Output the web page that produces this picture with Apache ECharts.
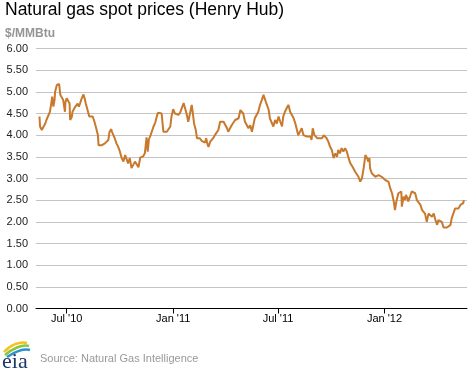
<!DOCTYPE html>
<html><head><meta charset="utf-8">
<script src="https://cdn.jsdelivr.net/npm/echarts@6/dist/echarts.min.js"></script>
<style>html,body{margin:0;padding:0;background:#fff}#c{width:473px;height:370px}</style>
</head><body><div id="c"></div>
<script>
const dates = [
'2010-05-15','2010-05-16','2010-05-19','2010-05-22','2010-05-25','2010-05-27','2010-05-30','2010-06-02','2010-06-04','2010-06-06',
'2010-06-08','2010-06-10','2010-06-11','2010-06-14','2010-06-16','2010-06-18','2010-06-20','2010-06-23','2010-06-25','2010-06-28',
'2010-06-29','2010-07-01','2010-07-04','2010-07-06','2010-07-07','2010-07-10','2010-07-11','2010-07-14','2010-07-16','2010-07-18',
'2010-07-20','2010-07-22','2010-07-24','2010-07-27','2010-07-30','2010-08-01','2010-08-03','2010-08-06','2010-08-09','2010-08-12',
'2010-08-15','2010-08-18','2010-08-21','2010-08-24','2010-08-25','2010-08-28','2010-08-31','2010-09-02','2010-09-05','2010-09-08',
'2010-09-11','2010-09-13','2010-09-16','2010-09-17','2010-09-20','2010-09-22','2010-09-25','2010-09-28','2010-10-01','2010-10-04',
'2010-10-07','2010-10-10','2010-10-13','2010-10-15','2010-10-18','2010-10-21','2010-10-24','2010-10-27','2010-10-30','2010-11-02',
'2010-11-05','2010-11-08','2010-11-10','2010-11-13','2010-11-16','2010-11-18','2010-11-20','2010-11-23','2010-11-25','2010-11-28',
'2010-12-01','2010-12-04','2010-12-06','2010-12-09','2010-12-12','2010-12-15','2010-12-18','2010-12-21','2010-12-24','2010-12-27',
'2010-12-29',
'2011-01-01','2011-01-04','2011-01-07','2011-01-10','2011-01-13','2011-01-16','2011-01-19','2011-01-21','2011-01-24','2011-01-27',
'2011-01-30','2011-02-02','2011-02-04','2011-02-06','2011-02-09','2011-02-11','2011-02-13','2011-02-16','2011-02-19','2011-02-22',
'2011-02-25','2011-02-27','2011-03-01','2011-03-03','2011-03-06','2011-03-09','2011-03-11','2011-03-14','2011-03-17','2011-03-20',
'2011-03-23','2011-03-26','2011-03-29','2011-04-01','2011-04-04','2011-04-06','2011-04-09','2011-04-12','2011-04-15','2011-04-18',
'2011-04-21','2011-04-24','2011-04-27','2011-04-29','2011-05-02','2011-05-05','2011-05-08','2011-05-11','2011-05-14','2011-05-17',
'2011-05-20','2011-05-22','2011-05-25','2011-05-28','2011-05-31','2011-06-03','2011-06-06','2011-06-08','2011-06-10','2011-06-12',
'2011-06-15','2011-06-17','2011-06-20','2011-06-23','2011-06-26','2011-06-29','2011-07-02','2011-07-05','2011-07-08','2011-07-10',
'2011-07-13','2011-07-16','2011-07-19','2011-07-22','2011-07-25','2011-07-28','2011-07-31','2011-08-03','2011-08-05','2011-08-08',
'2011-08-11','2011-08-14','2011-08-17','2011-08-20','2011-08-23','2011-08-26','2011-08-28','2011-08-30','2011-09-02','2011-09-04',
'2011-09-07','2011-09-10','2011-09-15','2011-09-18','2011-09-20','2011-09-23','2011-09-26','2011-09-29','2011-10-02','2011-10-05',
'2011-10-08','2011-10-11','2011-10-13','2011-10-16','2011-10-19','2011-10-22','2011-10-25','2011-10-28','2011-10-31','2011-11-03',
'2011-11-06','2011-11-08','2011-11-11','2011-11-14','2011-11-17','2011-11-20','2011-11-23','2011-11-26','2011-11-29','2011-12-02',
'2011-12-04','2011-12-06','2011-12-07','2011-12-10','2011-12-13','2011-12-16','2011-12-19','2011-12-22','2011-12-25','2011-12-27',
'2011-12-30',
'2012-01-02','2012-01-05','2012-01-08','2012-01-11','2012-01-14','2012-01-17','2012-01-19','2012-01-22','2012-01-25','2012-01-28',
'2012-01-30','2012-01-31','2012-02-03','2012-02-06','2012-02-07','2012-02-10','2012-02-11','2012-02-14','2012-02-17','2012-02-20',
'2012-02-23','2012-02-26','2012-02-29','2012-03-03','2012-03-06','2012-03-08','2012-03-11','2012-03-14','2012-03-17','2012-03-20',
'2012-03-23','2012-03-26','2012-03-29','2012-04-01','2012-04-03','2012-04-06','2012-04-09','2012-04-12','2012-04-15','2012-04-18',
'2012-04-21','2012-04-24','2012-04-26','2012-04-29','2012-05-02','2012-05-05','2012-05-08','2012-05-11','2012-05-14','2012-05-16',
'2012-05-17'
];
const prices = [
4.43,4.20,4.12,4.08,4.27,4.35,4.39,4.54,4.70,4.89,
4.66,4.81,5.00,5.16,5.20,5.18,4.93,4.89,4.81,4.54,
4.77,4.85,4.89,4.73,4.35,4.43,4.54,4.58,4.66,4.62,
4.73,4.66,4.73,4.85,4.94,4.85,4.73,4.58,4.43,4.39,
4.43,4.31,4.16,4.00,3.77,3.73,3.77,3.77,3.81,3.81,
3.89,4.08,4.14,4.08,4.04,3.93,3.81,3.73,3.62,3.47,
3.39,3.54,3.43,3.35,3.47,3.24,3.21,3.39,3.35,3.26,
3.48,3.51,3.51,3.58,3.95,3.62,3.90,4.00,4.02,4.20,
4.29,4.45,4.52,4.54,4.50,4.08,4.04,4.08,4.06,4.20,
4.43,
4.60,4.50,4.54,4.47,4.52,4.54,4.74,4.72,4.50,4.31,
4.50,4.70,4.50,4.27,4.12,3.93,3.89,3.93,3.87,3.89,
3.83,3.93,3.80,3.73,3.85,3.89,3.93,4.00,4.04,4.12,
4.31,4.35,4.31,4.27,4.16,4.08,4.08,4.23,4.27,4.35,
4.35,4.39,4.58,4.62,4.50,4.31,4.27,4.16,4.23,4.08,
4.27,4.39,4.39,4.54,4.70,4.81,4.93,4.85,4.77,4.81,
4.58,4.39,4.35,4.20,4.35,4.27,4.43,4.31,4.20,4.43,
4.54,4.62,4.70,4.54,4.50,4.39,4.27,4.23,4.00,4.04,
4.16,4.00,4.04,3.97,4.00,3.97,3.89,4.16,4.00,4.04,
3.93,3.97,3.93,4.00,4.04,3.93,3.85,3.73,3.66,3.47,
3.58,3.50,3.66,3.58,3.70,3.62,3.70,3.62,3.47,3.35,
3.39,3.24,3.16,3.16,3.04,2.93,3.00,3.24,3.54,3.47,
3.39,3.47,3.24,3.12,3.08,3.04,3.00,3.08,3.12,3.04,
3.00,
2.97,3.00,2.92,2.77,2.66,2.47,2.27,2.50,2.66,2.70,
2.70,2.35,2.58,2.50,2.62,2.54,2.47,2.58,2.70,2.66,
2.66,2.50,2.47,2.39,2.27,2.23,2.19,2.00,2.19,2.23,
2.12,2.19,2.04,1.93,2.04,2.00,2.00,1.87,1.89,1.87,
1.83,1.93,2.08,2.12,2.31,2.33,2.31,2.39,2.35,2.43,
2.50
];
const axisStart = '2010-05-09';
const axisEnd = '2012-05-22';
const tickDates = ['2010-07-01','2011-01-01','2011-07-01','2012-01-01'];
const tickLabels = ["Jul '10","Jan '11","Jul '11","Jan '12"];
const yMin = 0, yMax = 6, yStep = 0.5;

const DAY = 86400000;
function ts(s){const p=s.split('-').map(Number);return Date.UTC(p[0],p[1]-1,p[2]);}
const tickTs = tickDates.map(ts);
const seriesData = dates.map((d,i)=>[ts(d), prices[i]]);
const FONT = "'Liberation Sans', Arial, sans-serif";

const chart = echarts.init(document.getElementById('c'), null, {renderer:'canvas'});
chart.setOption({
  animation:false,
  backgroundColor:'#ffffff',
  grid:{left:36, right:6, top:48.5, bottom:61.5, containLabel:false},
  xAxis:{
    type:'value', min:ts(axisStart), max:ts(axisEnd)+DAY/2, scale:true,
    axisLine:{show:true, onZero:false, lineStyle:{color:'#000', width:1}},
    axisTick:{show:true, customValues:tickTs, length:5, inside:false, lineStyle:{color:'#000', width:1}},
    axisLabel:{show:true, customValues:tickTs, margin:5, color:'#000', fontSize:11, fontFamily:FONT,
      formatter:function(v){let best=0,bd=Infinity;tickTs.forEach((t,i)=>{const dd=Math.abs(t-v);if(dd<bd){bd=dd;best=i;}});return tickLabels[best];}},
    splitLine:{show:false}
  },
  yAxis:{
    type:'value', min:yMin, max:yMax, interval:yStep,
    axisLine:{show:false}, axisTick:{show:false},
    axisLabel:{margin:8, color:'#222', fontSize:11, fontFamily:FONT, formatter:v=>v.toFixed(2)},
    splitLine:{show:true, lineStyle:{color:'#c4c4c4', width:1}}
  },
  series:[{
    type:'line', data:seriesData, showSymbol:false, symbol:'none',
    lineStyle:{color:'#c8792c', width:2}, z:5
  }],
  graphic:[
    {type:'text', left:5, top:1, style:{text:'Natural gas spot prices (Henry Hub)', font:"17.5px 'Liberation Sans', Arial, sans-serif", fill:'#000'}},
    {type:'text', left:5, top:28, style:{text:'$/MMBtu', font:"bold 12px 'Liberation Sans', Arial, sans-serif", fill:'#959595'}},
    {type:'text', left:40, top:353, style:{text:'Source: Natural Gas Intelligence', font:"11px 'Liberation Sans', Arial, sans-serif", fill:'#999'}},
    {type:'bezierCurve', shape:{x1:4,y1:352,x2:27,y2:343,cpx1:10,cpy1:345,cpx2:20,cpy2:341}, style:{stroke:'#f2c320', lineWidth:2.5, fill:null}},
    {type:'bezierCurve', shape:{x1:5,y1:355,x2:29,y2:346,cpx1:12,cpy1:349,cpx2:22,cpy2:344}, style:{stroke:'#8cc63e', lineWidth:2.5, fill:null}},
    {type:'bezierCurve', shape:{x1:7,y1:357,x2:30,y2:350,cpx1:14,cpy1:352,cpx2:24,cpy2:348}, style:{stroke:'#2c8fd0', lineWidth:2.5, fill:null}},
    {type:'text', left:2, top:351, style:{text:'eia', font:"22px 'Liberation Serif', 'DejaVu Serif', serif", fill:'#1d3768'}}
  ]
});
</script>
</body></html>
